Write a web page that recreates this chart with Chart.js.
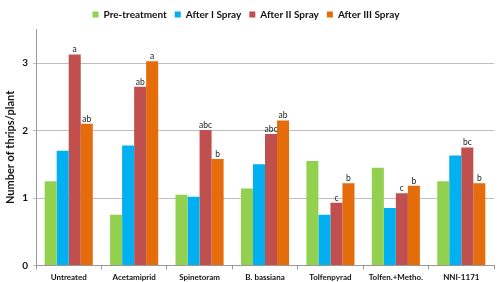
<!DOCTYPE html>
<html><head><meta charset="utf-8">
<script src="https://cdn.jsdelivr.net/npm/chart.js@4"></script>
<style>html,body{margin:0;padding:0;background:#fff}#c{display:block}</style>
</head><body>
<div style="width:500px;height:282px"><canvas id="c" width="500" height="282"></canvas></div>
<script>
const categories = ["Untreated","Acetamiprid","Spinetoram","B. bassiana","Tolfenpyrad","Tolfen.+Metho.","NNI-1171"];
const preTreatment = [1.25,0.75,1.05,1.14,1.55,1.45,1.25];
const afterI = [1.70,1.78,1.02,1.50,0.75,0.85,1.63];
const afterII = [3.13,2.65,2.01,1.95,0.93,1.07,1.75];
const afterIII = [2.10,3.03,1.58,2.15,1.22,1.18,1.22];
const labelsII = ["a","ab","abc","abc","c","c","bc"];
const labelsIII = ["ab","a","b","ab","b","b","b"];
const yTicks = [0,1,2,3];

const letterPlugin = {
  id:'letters',
  afterDatasetsDraw(chart){
    const ctx = chart.ctx;
    ctx.save();
    ctx.font = '8.5px Lato, sans-serif';
    ctx.fillStyle = '#222';
    ctx.textAlign = 'center';
    ctx.textBaseline = 'bottom';
    [[2,labelsII],[3,labelsIII]].forEach(([di,labs])=>{
      chart.getDatasetMeta(di).data.forEach((el,i)=>{
        ctx.fillText(labs[i], el.x, el.y - 0.5);
      });
    });
    ctx.restore();
  }
};

new Chart(document.getElementById('c'),{
  type:'bar',
  data:{
    labels:categories,
    datasets:[
      {label:'Pre-treatment',data:preTreatment,backgroundColor:'#92D050'},
      {label:'After I Spray',data:afterI,backgroundColor:'#00B0F0'},
      {label:'After II Spray',data:afterII,backgroundColor:'#C0504D'},
      {label:'After III Spray',data:afterIII,backgroundColor:'#E46C0A'}
    ]
  },
  options:{
    responsive:false,
    animation:false,
    devicePixelRatio:1,
    layout:{padding:{left:-2,right:6,top:1.5,bottom:-3}},
    datasets:{bar:{categoryPercentage:0.735,barPercentage:1}},
    plugins:{
      legend:{
        position:'top',
        labels:{boxWidth:6,boxHeight:6,padding:8,color:'#111',font:{family:'Lato',weight:'bold',size:10}}
      },
      tooltip:{enabled:false}
    },
    scales:{
      x:{
        grid:{drawOnChartArea:false,color:'#999',tickLength:4,offset:true},
        border:{color:'#999'},
        ticks:{color:'#111',font:{family:'Lato',weight:'bold',size:8},padding:3}
      },
      y:{
        min:0,max:3.5,
        afterBuildTicks(scale){scale.ticks = yTicks.map(v=>({value:v}));},
        grid:{color:'#BFBFBF',tickLength:3},
        border:{color:'#999'},
        ticks:{stepSize:1,color:'#111',font:{family:'Lato',weight:'bold',size:10},padding:5},
        title:{display:true,text:'Number of thrips/plant',color:'#111',font:{family:'Lato',weight:'bold',size:11},padding:{top:6,bottom:0}}
      }
    }
  },
  plugins:[letterPlugin]
});
</script>
</body></html>
